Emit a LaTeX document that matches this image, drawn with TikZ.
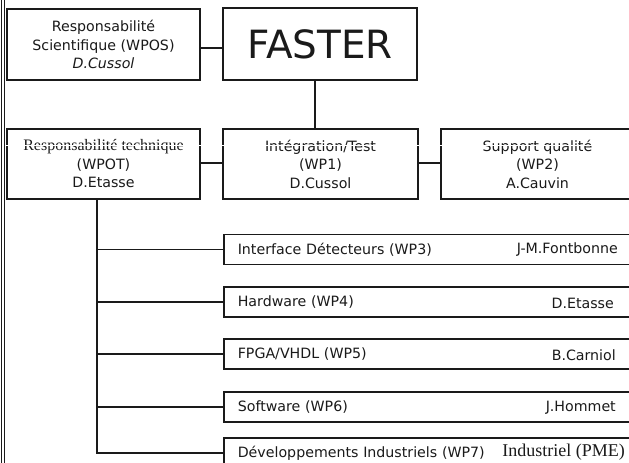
\documentclass[tikz,border=0pt]{standalone}
\usepackage{fontspec}
\setmainfont{DejaVu Sans}
\newfontfamily\serifx{Liberation Serif}
\definecolor{ink}{HTML}{1A1A1A}
\tikzset{
  box/.style={draw=ink, line width=1.6pt, rectangle, inner sep=0pt, align=center,
    font=\fontsize{14.2}{18.5}\selectfont, text=ink},
  wpbox/.style={draw=ink, line width=1.6pt, rectangle, inner sep=0pt,
    minimum width=417pt, minimum height=30pt, anchor=west, text=ink,
    font=\fontsize{14.2}{17}\selectfont, text width=389pt, align=left},
  who/.style={anchor=east, text=ink, inner sep=0pt, font=\fontsize{14.2}{17}\selectfont},
  link/.style={draw=ink, line width=1.5pt},
}
\begin{document}
\begin{tikzpicture}[x=1pt, y=-1pt]
\useasboundingbox (0,0) rectangle (629,463);
\clip (0,0) rectangle (629,463);
\fill[white] (0,0) rectangle (629,463);
% left page edge (double line)
\draw[ink, line width=0.8pt] (1.5,0) -- (1.5,463);
\draw[ink, line width=0.8pt] (4.5,0) -- (4.5,463);

\node[box, minimum width=193pt, minimum height=71pt] (rs) at (103.5,44.5)
  {Responsabilité\\Scientifique (WPOS)\\\textit{D.Cussol}};
\node[box, minimum width=194pt, minimum height=72pt, font=\fontsize{38.9}{40}\selectfont] (faster) at (320,44) {FASTER};

\node[box, minimum width=193pt, minimum height=70pt] (rt) at (103.5,164)
  {{\serifx\fontsize{16}{18}\selectfont Responsabilité technique}\\(WPOT)\\D.Etasse};
\node[box, minimum width=195pt, minimum height=70pt] (wp1) at (320.5,164)
  {Intégration/Test\\(WP1)\\D.Cussol};
\node[box, minimum width=193pt, minimum height=70pt] (wp2) at (537.5,164)
  {Support qualité\\(WP2)\\A.Cauvin};

\node[wpbox] (wp3) at (223,249.5) {Interface Détecteurs (WP3)};
\node[wpbox] (wp4) at (223,302) {Hardware (WP4)};
\node[wpbox] (wp5) at (223,354) {FPGA/VHDL (WP5)};
\node[wpbox] (wp6) at (223,407) {Software (WP6)};
\node[wpbox] (wp7) at (223,453) {Développements Industriels (WP7)};

\node[who] (n3) at (618,250) {J-M.Fontbonne};
\node[who] (n4) at (614,303) {D.Etasse};
\node[who] (n5) at (616,355) {B.Carniol};
\node[who] (n6) at (616,408) {J.Hommet};
\node[who, font=\serifx\fontsize{18}{20}\selectfont] (n7) at (625,452) {Industriel (PME)};

% connectors
\draw[link] (rs.east |- 0,48) -- (faster.west |- 0,48);
\draw[link] (faster.south -| 315,0) -- (wp1.north -| 315,0);
\draw[link] (rt.east |- 0,163) -- (wp1.west |- 0,163);
\draw[link] (wp1.east |- 0,163) -- (wp2.west |- 0,163);
\coordinate (tk) at (97,199);
\draw[link] (tk) |- (wp7.west);
\foreach \w in {wp3,wp4,wp5,wp6} \draw[link] (tk |- \w.west) -- (\w.west);

% white scan line across the second row
\draw[white, line width=0.8pt] (6,145) -- (629,145);
\end{tikzpicture}
\end{document}
